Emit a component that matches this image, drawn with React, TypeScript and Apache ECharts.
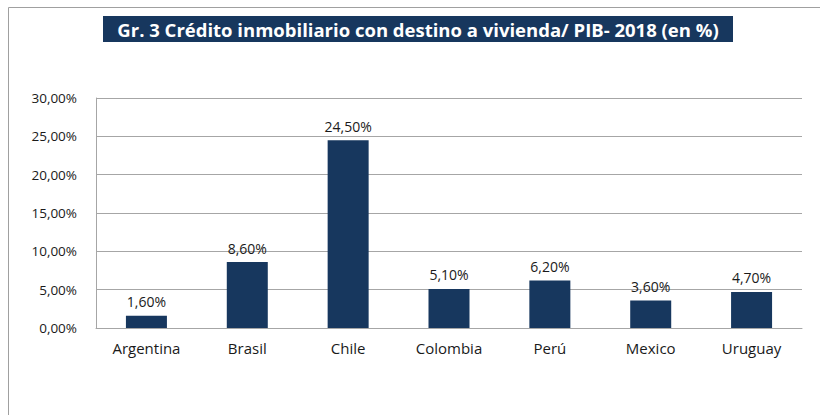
import React, { useEffect, useRef } from "react";
import * as echarts from "echarts";

const categories = ["Argentina", "Brasil", "Chile", "Colombia", "Perú", "Mexico", "Uruguay"];
const values = [1.6, 8.6, 24.5, 5.1, 6.2, 3.6, 4.7];
const titleText = "Gr. 3 Crédito inmobiliario con destino a vivienda/ PIB- 2018 (en %)";

const fmt = (v: number) => v.toFixed(2).replace(".", ",") + "%";

export default function App() {
  const ref = useRef<HTMLDivElement>(null);
  useEffect(() => {
    document.body.style.margin = "0";
    const chart = echarts.init(ref.current!, null, { renderer: "svg" });
    const font = "'Open Sans', sans-serif";
    chart.setOption({
      animation: false,
      backgroundColor: "#ffffff",
      grid: { left: 96, right: 18, top: 98, bottom: 87 },
      xAxis: {
        type: "category",
        data: categories,
        axisLine: { show: true, lineStyle: { color: "#a6a6a6", width: 1 } },
        axisTick: { show: false },
        axisLabel: { color: "#1a1a1a", fontSize: 15, fontFamily: font, margin: 12 },
      },
      yAxis: {
        type: "value",
        min: 0,
        max: 30,
        interval: 5,
        axisLine: { show: true, lineStyle: { color: "#a6a6a6", width: 1 } },
        axisTick: { show: false },
        splitLine: { show: true, lineStyle: { color: "#a6a6a6", width: 1 } },
        axisLabel: {
          color: "#1a1a1a",
          fontSize: 13.5,
          fontFamily: font,
          margin: 19,
          formatter: (v: number) => fmt(v),
        },
      },
      series: [
        {
          type: "bar",
          data: values,
          barWidth: 41,
          itemStyle: { color: "#17375e" },
          label: {
            show: true,
            position: "top",
            distance: 7,
            color: "#1a1a1a",
            fontSize: 14,
            fontFamily: font,
            formatter: (p: any) => fmt(p.value),
          },
        },
      ],
      graphic: [
        { type: "line", shape: { x1: 8.5, y1: 7.5, x2: 820, y2: 7.5 }, style: { stroke: "#a0a0a0", lineWidth: 1 } },
        { type: "line", shape: { x1: 8.5, y1: 7.5, x2: 8.5, y2: 415 }, style: { stroke: "#a0a0a0", lineWidth: 1 } },
        { type: "rect", shape: { x: 103, y: 16, width: 630, height: 26 }, style: { fill: "#17375e" } },
        {
          type: "text",
          x: 418,
          y: 29,
          style: {
            text: titleText,
            fill: "#ffffff",
            fontSize: 18.5,
            fontWeight: "bold",
            fontFamily: font,
            align: "center",
            verticalAlign: "middle",
          },
        },
      ],
    });
    return () => chart.dispose();
  }, []);
  return <div ref={ref} style={{ width: 820, height: 415 }} />;
}
